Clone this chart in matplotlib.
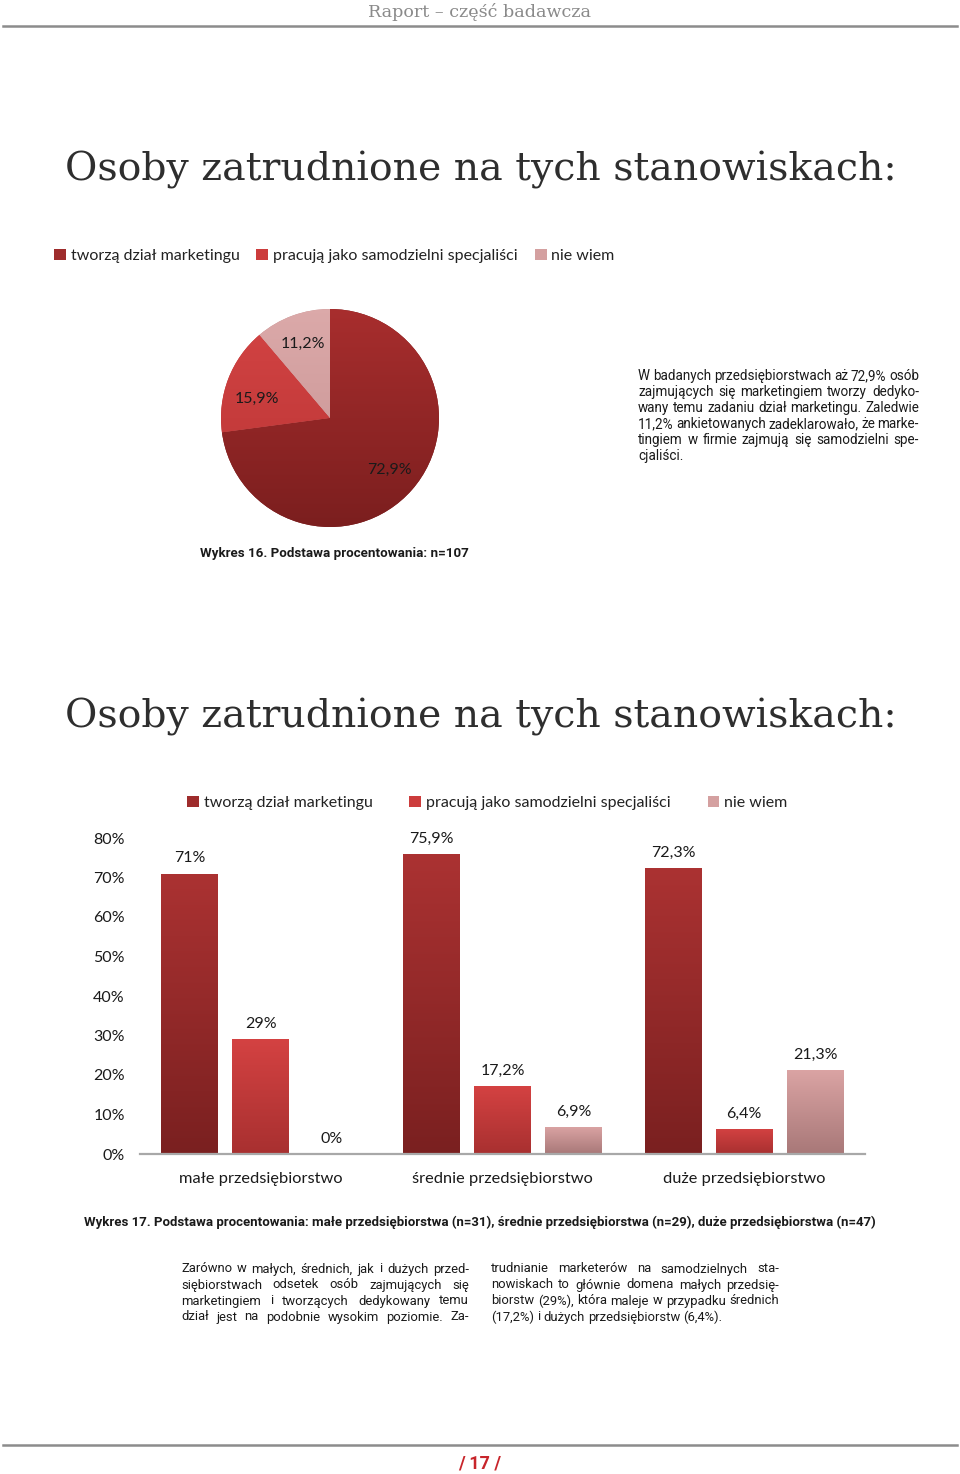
import matplotlib
matplotlib.use("Agg")
import matplotlib.pyplot as plt
import numpy as np
from matplotlib.colors import LinearSegmentedColormap
from matplotlib.patches import Patch
from matplotlib.lines import Line2D

# ---------------- data ----------------
series = ['tworzą dział marketingu', 'pracują jako samodzielni specjaliści', 'nie wiem']
pie_values = [72.9, 15.9, 11.2]

categories = ['małe przedsiębiorstwo', 'średnie przedsiębiorstwo', 'duże przedsiębiorstwo']
tworza = [71, 75.9, 72.3]
specjalisci = [29, 17.2, 6.4]
nie_wiem = [0, 6.9, 21.3]
yticks = [0, 10, 20, 30, 40, 50, 60, 70, 80]

title = 'Osoby zatrudnione na tych stanowiskach:'
header = 'Raport – część badawcza'
caption16 = 'Wykres 16. Podstawa procentowania: n=107'
caption17 = ('Wykres 17. Podstawa procentowania: małe przedsiębiorstwa (n=31), '
             'średnie przedsiębiorstwa (n=29), duże przedsiębiorstwa (n=47)')
para1 = ['W badanych przedsiębiorstwach aż 72,9% osób',
         'zajmujących się marketingiem tworzy dedyko-',
         'wany temu zadaniu dział marketingu. Zaledwie',
         '11,2% ankietowanych zadeklarowało, że marke-',
         'tingiem w firmie zajmują się samodzielni spe-',
         'cjaliści.']
para2a = ['Zarówno w małych, średnich, jak i dużych przed-',
          'siębiorstwach odsetek osób zajmujących się',
          'marketingiem i tworzących dedykowany temu',
          'dział jest na podobnie wysokim poziomie. Za-']
para2b = ['trudnianie marketerów na samodzielnych sta-',
          'nowiskach to głównie domena małych przedsię-',
          'biorstw (29%), która maleje w przypadku średnich',
          '(17,2%) i dużych przedsiębiorstw (6,4%).']
page_no = '/ 17 /'

# ---------------- style ----------------
W, H = 960, 1474
fig = plt.figure(figsize=(W / 100, H / 100), dpi=100)
fig.patch.set_facecolor('white')

def P(x, y):
    return x / W, 1 - y / H

grad_cols = [('#7a2020', '#ab3232'),   # dark
             ('#a83030', '#d44242'),   # red
             ('#a87878', '#dba4a4')]   # pink
pie_grad = [('#7a1e1e', '#a92e2e'),
            ('#b83434', '#d44444'),
            ('#c59090', '#dcaaaa')]
legend_cols = ['#9e2c2c', '#cc3c3c', '#d4a0a0']

chart_font = ['Lato', 'DejaVu Sans']
body_font = ['Roboto', 'DejaVu Sans']

renderer = fig.canvas.get_renderer()

def text_w(s, **kw):
    t = fig.text(0, 0, s, **kw)
    w = t.get_window_extent(renderer).width
    t.remove()
    return w

def justify(x0, x1, y, line, last=False, **kw):
    words = line.split()
    widths = [text_w(w, **kw) for w in words]
    space = text_w('a a', **kw) - text_w('aa', **kw)
    if last or len(words) == 1:
        gap = space
    else:
        gap = max((x1 - x0 - sum(widths)) / (len(words) - 1), 0.6 * space)
    x = x0
    for w, wd in zip(words, widths):
        fig.text(*P(x, y), w, ha='left', va='center', **kw)
        x += wd + gap

# header + footer
fig.text(*P(480, 12), header, ha='center', va='center', fontsize=12.6,
         family=['DejaVu Serif'], color='#8a8a8a')
fig.add_artist(Line2D([3 / W, 957 / W], [1 - 26 / H] * 2, color='#8c8c8c', lw=1.8))
fig.add_artist(Line2D([3 / W, 957 / W], [1 - 1445 / H] * 2, color='#8c8c8c', lw=1.8))
fig.text(*P(480, 1463), page_no, ha='center', va='center', fontsize=13,
         family=body_font, fontweight='bold', color='#c8252b')

# titles
for ty in (170, 717):
    fig.text(*P(481, ty), title, ha='center', va='center', fontsize=28.4,
             family=['DejaVu Serif'], color='#2e2e2e')

# ---------------- pie ----------------
cx, cy, r = 330, 418, 109
axp = fig.add_axes([(cx - r) / W, (H - cy - r) / H, 2 * r / W, 2 * r / H])
wedges, _, autotexts = axp.pie(
    pie_values, startangle=90, counterclock=False, radius=1,
    autopct=lambda p: f'{p:.1f}'.replace('.', ',') + '%', pctdistance=0.72,
    wedgeprops=dict(linewidth=0, edgecolor='none'),
    textprops=dict(fontsize=11.5, family=chart_font, color='#1a1a1a'))
grad = np.linspace(0, 1, 256).reshape(-1, 1)
for wdg, (c0, c1) in zip(wedges, pie_grad):
    wdg.set_facecolor(c0)
    cmap = LinearSegmentedColormap.from_list('g', [c0, c1])
    im = axp.imshow(grad, extent=[-1.05, 1.05, -1.05, 1.05], origin='lower',
                    cmap=cmap, aspect='auto', zorder=1.5)
    im.set_clip_path(wdg)
for t in autotexts:
    t.set_zorder(5)
autotexts[1].set_y(autotexts[1].get_position()[1] - 0.08)
axp.set_xlim(-1, 1)
axp.set_ylim(-1, 1)
axp.axis('off')

fig.legend(handles=[Patch(facecolor=c, edgecolor='none') for c in legend_cols],
           labels=series, loc='center left', bbox_to_anchor=P(54, 256), ncol=3,
           frameon=False, prop=dict(family=chart_font, size=11.5),
           handlelength=0.75, handleheight=0.75, handletextpad=0.3,
           columnspacing=1.05, labelcolor='#222222', borderpad=0, borderaxespad=0)

for i, line in enumerate(para1):
    justify(638, 919, 376 + 16 * i, line, last=(i == len(para1) - 1),
            fontsize=9.75, family=body_font, color='#1a1a1a')

fig.text(*P(200, 553), caption16, ha='left', va='center', fontsize=9.6,
         family=body_font, fontweight='bold', color='#1a1a1a')

# ---------------- bars ----------------
y0px, y80px = 1154, 838
ax = fig.add_axes([140 / W, (H - y0px) / H, (865 - 140) / W, (y0px - y80px) / H])
x = np.arange(len(categories))
bw, step = 0.2355, 0.2934
for k, vals in enumerate([tworza, specjalisci, nie_wiem]):
    bars = ax.bar(x + (k - 1) * step, vals, width=bw, color=grad_cols[k][1],
                  linewidth=0, zorder=2, label=series[k])
    cmap = LinearSegmentedColormap.from_list('g', list(grad_cols[k]))
    for b, v in zip(bars, vals):
        if v > 0:
            im = ax.imshow(grad, extent=[b.get_x(), b.get_x() + b.get_width(), 0, v],
                           origin='lower', cmap=cmap, aspect='auto', zorder=2.5)
            im.set_clip_path(b)
        ax.annotate(f'{v:g}'.replace('.', ',') + '%',
                    (b.get_x() + b.get_width() / 2, v), xytext=(0, 11),
                    textcoords='offset points', ha='center', va='center',
                    fontsize=11.5, family=chart_font, color='#1a1a1a',
                    annotation_clip=False)
ax.set_xlim(-0.5, 2.5)
ax.set_ylim(0, 80)
ax.set_yticks(yticks)
ax.set_yticklabels([f'{v}%' for v in yticks], fontsize=11.5, family=chart_font,
                   color='#1a1a1a')
ax.tick_params(axis='y', length=0, pad=11)
ax.set_xticks(x)
ax.set_xticklabels(categories, fontsize=11.8, family=chart_font, color='#1a1a1a')
ax.tick_params(axis='x', length=0, pad=13)
for s in ['top', 'right', 'left']:
    ax.spines[s].set_visible(False)
ax.spines['bottom'].set_color('#a8a8a8')
ax.spines['bottom'].set_linewidth(1.6)
ax.spines['bottom'].set_zorder(3)
ax.set_facecolor('none')

fig.legend(handles=[Patch(facecolor=c, edgecolor='none') for c in legend_cols],
           labels=series, loc='center left', bbox_to_anchor=P(187, 803), ncol=3,
           frameon=False, prop=dict(family=chart_font, size=11.5),
           handlelength=0.75, handleheight=0.75, handletextpad=0.3,
           columnspacing=2.3, labelcolor='#222222', borderpad=0, borderaxespad=0)

fig.text(*P(480, 1222), caption17, ha='center', va='center', fontsize=9.55,
         family=body_font, fontweight='bold', color='#1a1a1a')

for i, line in enumerate(para2a):
    justify(181, 469, 1269 + 16 * i, line, fontsize=9.4, family=body_font,
            color='#1a1a1a')
for i, line in enumerate(para2b):
    justify(491, 779, 1269 + 16 * i, line, last=(i == len(para2b) - 1),
            fontsize=9.4, family=body_font, color='#1a1a1a')

fig.savefig('out.png', dpi=100, facecolor='white')
